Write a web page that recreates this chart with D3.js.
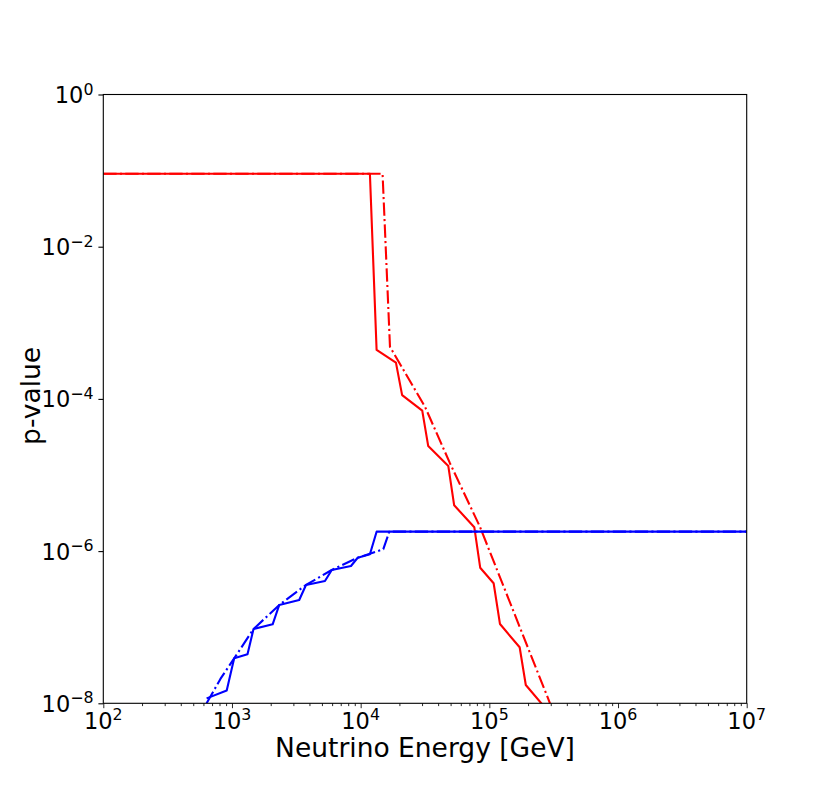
<!DOCTYPE html>
<html>
<head>
<meta charset="utf-8">
<script src="https://cdn.jsdelivr.net/npm/d3@7"></script>
<style>
  body { margin: 0; background: #fff; }
  svg { display: block; font-family: 'DejaVu Sans', sans-serif; }
</style>
</head>
<body>
<svg id="chart" width="830" height="791"></svg>
<script>
// tick values (decades)
const xMajor = [1e2, 1e3, 1e4, 1e5, 1e6, 1e7]
const yMajor = [1e-8, 1e-6, 1e-4, 1e-2, 1e0]

// red, solid
const redSolidE = [1e2, 1.18e4, 1.33e4, 1.88e4, 2.10e4, 3.01e4, 3.35e4, 4.80e4, 5.33e4, 7.64e4, 8.49e4, 1.08e5, 1.21e5, 1.72e5, 1.92e5, 2.75e5, 3.1e5]
const redSolidP = [0.091, 0.091, 4.4e-4, 3.0e-4, 1.12e-4, 7.0e-5, 2.4e-5, 1.31e-5, 4.0e-6, 2.06e-6, 6.05e-7, 3.78e-7, 1.10e-7, 5.45e-8, 1.74e-8, 8.5e-9, 2.5e-9]

// red, dash-dot
const redDashE = [1e2, 1.48e4, 1.69e4, 3.16e4, 4.94e4, 8.45e4, 2.96e5, 3.98e5]
const redDashP = [0.091, 0.091, 4.83e-4, 7.9e-5, 1.43e-5, 2.09e-6, 1.0e-8, 2.8e-9]

// blue, solid
const blueSolidE = [635, 910, 1.04e3, 1.32e3, 1.47e3, 2.07e3, 2.33e3, 3.33e3, 3.76e3, 5.28e3, 5.96e3, 8.41e3, 9.48e3, 1.18e4, 1.33e4, 1e7]
const blueSolidP = [1.16e-8, 1.47e-8, 3.9e-8, 4.4e-8, 9.46e-8, 1.09e-7, 1.96e-7, 2.28e-7, 3.59e-7, 4.05e-7, 5.65e-7, 6.37e-7, 8.18e-7, 9.08e-7, 1.8e-6, 1.8e-6]

// blue, dash-dot
const blueDashE = [635, 813, 1.04e3, 1.47e3, 2.33e3, 3.76e3, 5.96e3, 9.48e3, 1.5e4, 1.67e4, 1e7]
const blueDashP = [1.0e-8, 2.09e-8, 3.9e-8, 9.46e-8, 1.96e-7, 3.59e-7, 5.65e-7, 8.18e-7, 1.06e-6, 1.8e-6, 1.8e-6]

const series = [
  {e: redSolidE, p: redSolidP, color: '#ff0000', dash: null},
  {e: redDashE, p: redDashP, color: '#ff0000', dash: '13.3 3.3 2.1 3.3'},
  {e: blueSolidE, p: blueSolidP, color: '#0000ff', dash: null},
  {e: blueDashE, p: blueDashP, color: '#0000ff', dash: '13.3 3.3 2.1 3.3'},
]

const margin = {left: 103.3, right: 83.3, top: 94.5, bottom: 87.7}
const width = 830 - margin.left - margin.right
const height = 791 - margin.top - margin.bottom

const svg = d3.select('#chart')
const g = svg.append('g').attr('transform', `translate(${margin.left},${margin.top})`)

const x = d3.scaleLog().domain([1e2, 1e7]).range([0, width])
const y = d3.scaleLog().domain([1e-8, 1e0]).range([height, 0])

// minor ticks on x: 2..9 in each decade
const xMinor = []
xMajor.slice(0, -1).forEach((d) => {
  for (let k = 2; k <= 9; k++) xMinor.push(d * k)
})

g.append('defs').append('clipPath').attr('id', 'plot-clip')
  .append('rect').attr('width', width).attr('height', height)

// lines
const line = d3.line().x((d) => x(d[0])).y((d) => y(d[1]))
g.append('g').attr('clip-path', 'url(#plot-clip)')
  .selectAll('path')
  .data(series)
  .join('path')
  .attr('d', (s) => line(s.e.map((v, i) => [v, s.p[i]])))
  .attr('fill', 'none')
  .attr('stroke', (s) => s.color)
  .attr('stroke-width', 2.1)
  .attr('stroke-linejoin', 'round')
  .attr('stroke-dasharray', (s) => s.dash)

// frame
g.append('rect')
  .attr('width', width).attr('height', height)
  .attr('fill', 'none').attr('stroke', '#000').attr('stroke-width', 1.1)

// x axis
const xAxis = g.append('g').attr('transform', `translate(0,${height})`)
xAxis.call(d3.axisBottom(x).tickValues(xMajor).tickFormat('').tickSize(4.9).tickSizeOuter(0))
xAxis.append('g').call(d3.axisBottom(x).tickValues(xMinor).tickFormat('').tickSize(2.8).tickSizeOuter(0))
xAxis.selectAll('.domain').remove()
xAxis.selectAll('line').attr('stroke', '#000')
xAxis.selectAll('g > g > line').attr('stroke-width', 0.85)

// y axis
const yAxis = g.append('g')
yAxis.call(d3.axisLeft(y).tickValues(yMajor).tickFormat('').tickSize(4.9).tickSizeOuter(0))
yAxis.selectAll('.domain').remove()
yAxis.selectAll('line').attr('stroke', '#000').attr('stroke-width', 1.1)

// tick labels with superscript exponents
const expo = (d) => Math.round(Math.log10(d)).toString().replace('-', '\u2212')

const xLabels = g.append('g').selectAll('text')
  .data(xMajor)
  .join('text')
  .attr('x', (d) => x(d))
  .attr('y', height + 25.2)
  .attr('text-anchor', 'middle')
  .attr('font-size', 22.5)
  .attr('fill', '#000')
xLabels.append('tspan').text('10')
xLabels.append('tspan').attr('dy', -8.5).attr('font-size', 15.8).text(expo)

const yLabels = g.append('g').selectAll('text')
  .data(yMajor)
  .join('text')
  .attr('x', -9.8)
  .attr('y', (d) => y(d) + 8.5)
  .attr('text-anchor', 'end')
  .attr('font-size', 22.5)
  .attr('fill', '#000')
yLabels.append('tspan').text('10')
yLabels.append('tspan').attr('dy', -8.5).attr('font-size', 15.8).text(expo)

// axis titles
g.append('text')
  .attr('x', width / 2)
  .attr('y', height + 53.4)
  .attr('text-anchor', 'middle')
  .attr('font-size', 26.5)
  .attr('fill', '#000')
  .text('Neutrino Energy [GeV]')

g.append('text')
  .attr('transform', `translate(${39.5 - margin.left},${height / 2 - 3}) rotate(-90)`)
  .attr('text-anchor', 'middle')
  .attr('font-size', 26.5)
  .attr('fill', '#000')
  .text('p-value')
</script>
</body>
</html>
